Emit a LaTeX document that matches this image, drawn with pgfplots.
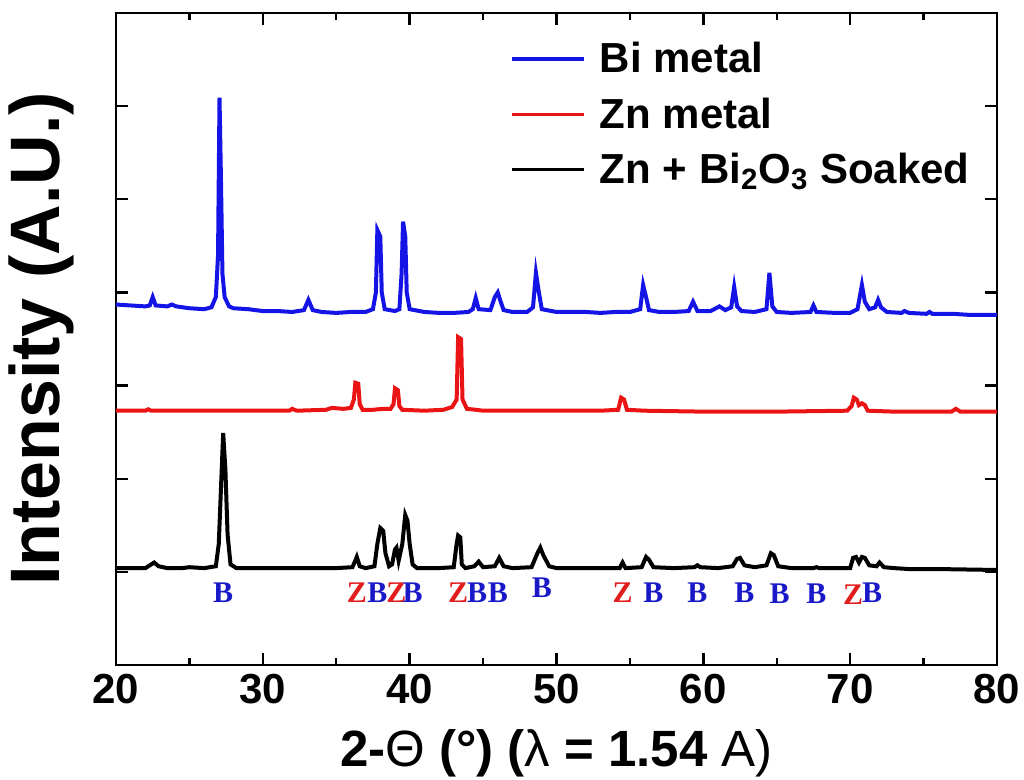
\documentclass[border=0pt]{standalone}
\usepackage{pgfplots}
\pgfplotsset{compat=1.18}
\usepackage{fontspec}
\setmainfont{Liberation Sans}
\newfontfamily\timesf{Liberation Serif}

\definecolor{bitrace}{RGB}{20,20,230}
\definecolor{zntrace}{RGB}{235,20,20}
\definecolor{blab}{RGB}{25,25,200}
\definecolor{zlab}{RGB}{225,30,30}

\newcommand{\lB}[2]{\node[text=blab,font=\timesf\bfseries\fontsize{15}{15}\selectfont] at (axis cs:#1,#2) {B};}
\newcommand{\lZ}[2]{\node[text=zlab,font=\timesf\bfseries\fontsize{15}{15}\selectfont] at (axis cs:#1,#2) {Z};}

\begin{document}
\begin{tikzpicture}
% fix the page to the reference's frame (1 px = 0.5 pt)
\useasboundingbox (-58pt,-57.5pt) rectangle (454pt,332.5pt);
\begin{axis}[
  at={(0,0)}, anchor=south west,
  scale only axis,
  width=440.5pt, height=326pt,
  xmin=20, xmax=80, ymin=0, ymax=7,
  xtick={20,30,...,80},
  minor xtick={25,35,...,75},
  ytick={1,2,...,6},
  yticklabels={},
  tick align=inside,
  major tick length=6pt,
  minor tick length=3.5pt,
  axis line style={line width=1.3pt},
  every tick/.style={black, line width=1.2pt},
  /pgf/number format/assume math mode=true,
  xticklabel style={font=\bfseries\fontsize{21}{25}\selectfont, yshift=-1pt},
  xlabel={\textbf{2-}Θ \textbf{(°) (}λ\textbf{ = 1.54} A)},
  xlabel style={font=\fontsize{25.5}{29}\selectfont, at={(axis description cs:0.5,-0.135)}, anchor=center},
  ylabel={Intensity (A.U.)},
  ylabel style={font=\bfseries\fontsize{35}{40}\selectfont, at={(axis description cs:-0.085,0.5)}, anchor=center},
  legend cell align=left,
  legend style={at={(axis description cs:0.447,0.962)}, anchor=north west,
    draw=none, fill=none, inner sep=0pt, row sep=7pt,
    font=\bfseries\fontsize{21}{25}\selectfont},
  legend image code/.code={\draw[#1, line width=1.7pt] (0pt,0pt) -- (36pt,0pt); \path (41pt,0pt);},
]
% Bi metal
\addplot[bitrace, line width=2pt] coordinates {
(20,3.87)(21,3.86)(22,3.85)(22.3,3.86)(22.5,3.95)(22.7,3.86)(23.5,3.85)(23.8,3.87)(24.1,3.85)(25,3.83)(26,3.82)(26.5,3.84)
(26.8,3.95)(26.95,4.4)(27.05,6.09)(27.15,5.2)(27.25,4.2)(27.4,3.95)(27.7,3.85)(28,3.83)(29,3.82)(30,3.80)(31,3.80)(32,3.79)
(32.8,3.81)(33.1,3.92)(33.4,3.81)(34,3.79)(35,3.78)(36,3.79)(37,3.79)(37.5,3.82)(37.7,4.0)(37.8,4.67)(38.0,4.6)(38.1,4.0)
(38.3,3.82)(39,3.80)(39.3,3.82)(39.45,4.2)(39.55,4.76)(39.7,4.6)(39.8,4.0)(40,3.82)(41,3.79)(42,3.78)(43,3.78)(44,3.79)
(44.3,3.82)(44.5,3.94)(44.7,3.82)(45.5,3.81)(45.8,3.95)(46.0,4.00)(46.2,3.90)(46.4,3.81)(47,3.79)(48,3.79)(48.4,3.84)
(48.6,4.21)(48.8,4.0)(49,3.82)(50,3.79)(52,3.79)(53,3.78)(54,3.79)(55,3.79)(55.7,3.82)(55.9,4.08)(56.1,3.95)(56.3,3.81)
(57,3.79)(58,3.79)(59.0,3.80)(59.3,3.90)(59.6,3.80)(60.5,3.80)(61.1,3.85)(61.5,3.81)(61.9,3.84)(62.1,4.06)(62.3,3.85)
(62.6,3.80)(63.5,3.79)(64.3,3.82)(64.5,4.21)(64.7,3.85)(65,3.79)(66,3.78)(67.3,3.79)(67.5,3.86)(67.7,3.79)(69,3.78)
(70,3.78)(70.5,3.82)(70.8,4.08)(71.0,3.90)(71.3,3.82)(71.7,3.84)(71.9,3.92)(72.1,3.84)(72.5,3.79)(73.5,3.78)(73.7,3.80)
(74,3.78)(75.2,3.77)(75.4,3.79)(75.6,3.77)(77,3.77)(78,3.76)(80,3.76)
};
\addlegendentry{Bi metal}
% Zn metal
\addplot[zntrace, line width=2pt] coordinates {
(20,2.73)(22,2.73)(22.2,2.745)(22.4,2.73)(25,2.73)(28,2.73)(31.8,2.73)(32.0,2.75)(32.3,2.73)(34.3,2.74)(34.7,2.76)
(35.5,2.75)(36.0,2.76)(36.2,2.85)(36.3,3.03)(36.5,3.02)(36.6,2.80)(36.8,2.74)(37.5,2.74)(38.2,2.75)(38.7,2.75)(38.9,2.80)
(39.0,2.97)(39.2,2.95)(39.3,2.78)(39.5,2.74)(41,2.73)(42.3,2.74)(42.9,2.77)(43.2,2.85)(43.3,3.52)(43.5,3.50)(43.6,2.85)
(43.9,2.75)(44.5,2.74)(45,2.73)(47,2.73)(50,2.73)(53,2.73)(54.2,2.74)(54.4,2.87)(54.6,2.85)(54.8,2.74)(56,2.73)(60,2.72)
(65,2.72)(69.8,2.73)(70.1,2.78)(70.25,2.87)(70.45,2.85)(70.6,2.79)(70.8,2.81)(71.0,2.79)(71.2,2.73)(73,2.72)(76.9,2.72)
(77.2,2.75)(77.5,2.72)(80,2.72)
};
\addlegendentry{Zn metal}
% Zn + Bi2O3 soaked
\addplot[black, line width=2pt] coordinates {
(20,1.04)(21,1.04)(22,1.04)(22.3,1.07)(22.6,1.10)(22.9,1.06)(23.5,1.04)(24.5,1.04)(25,1.05)(26,1.04)(26.8,1.06)(27.0,1.3)
(27.15,1.9)(27.3,2.49)(27.45,2.1)(27.6,1.4)(27.8,1.08)(28.2,1.04)(30,1.04)(32,1.04)(35,1.04)(36.1,1.05)(36.3,1.12)
(36.4,1.16)(36.6,1.06)(37,1.04)(37.6,1.06)(37.8,1.3)(38.0,1.47)(38.2,1.44)(38.35,1.2)(38.6,1.06)(38.8,1.08)(39.0,1.24)
(39.1,1.26)(39.25,1.12)(39.5,1.3)(39.7,1.61)(39.85,1.55)(40.0,1.3)(40.2,1.08)(40.5,1.04)(42,1.04)(43.0,1.05)(43.2,1.3)
(43.3,1.39)(43.45,1.37)(43.55,1.08)(43.8,1.04)(44.4,1.06)(44.7,1.11)(45.0,1.05)(45.8,1.06)(46.1,1.15)(46.4,1.06)(47,1.04)
(48.3,1.05)(48.7,1.20)(48.9,1.26)(49.1,1.18)(49.5,1.06)(50,1.04)(54.3,1.04)(54.5,1.10)(54.7,1.04)(55.8,1.05)(56.1,1.16)
(56.3,1.13)(56.6,1.05)(58,1.04)(59.4,1.05)(59.6,1.07)(59.8,1.05)(61,1.04)(62,1.06)(62.3,1.14)(62.5,1.15)(62.8,1.07)
(63.5,1.05)(64.3,1.07)(64.6,1.20)(64.8,1.18)(65.1,1.06)(66,1.04)(67.5,1.04)(67.7,1.05)(67.9,1.04)(70,1.04)(70.2,1.15)
(70.4,1.16)(70.6,1.10)(70.8,1.16)(71.0,1.15)(71.3,1.07)(71.8,1.06)(72.0,1.10)(72.3,1.05)(73,1.04)(74,1.03)(76,1.03)(80,1.02)
};
\addlegendentry{Zn + Bi\textsubscript{2}O\textsubscript{3} Soaked}
% phase markers
\lB{27.3}{0.78}
\lZ{36.4}{0.78}\lB{37.8}{0.78}\lZ{39.1}{0.78}\lB{40.2}{0.78}
\lZ{43.3}{0.78}\lB{44.6}{0.78}\lB{46.0}{0.78}\lB{49.0}{0.83}
\lZ{54.5}{0.78}\lB{56.6}{0.78}\lB{59.6}{0.78}\lB{62.8}{0.78}
\lB{65.2}{0.76}\lB{67.7}{0.76}\lZ{70.2}{0.76}\lB{71.5}{0.78}
\end{axis}
\end{tikzpicture}
\end{document}
